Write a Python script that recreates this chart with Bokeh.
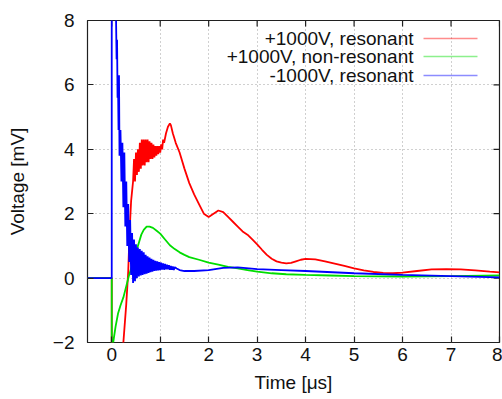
from bokeh.plotting import figure
from bokeh.models import FixedTicker, Label, BoxAnnotation, Range1d
from bokeh.embed import file_html
from bokeh.resources import INLINE

# ---------------- data ----------------
x_ticks = [0, 1, 2, 3, 4, 5, 6, 7, 8]
y_ticks = [-2, 0, 2, 4, 6, 8]

series_names = ["+1000V, resonant", "+1000V, non-resonant", "-1000V, resonant"]

red_t = [-0.5, 0.0, 0.0, 0.24, 0.30, 0.34, 0.37, 0.40, 0.42,
         0.44, 0.46, 0.48, 0.50, 0.52, 0.54, 0.56, 0.58, 0.60, 0.62,
         0.64, 0.66, 0.68, 0.70, 0.72, 0.74, 0.76, 0.78, 0.80, 0.82,
         0.84, 0.86, 0.88, 0.90, 0.92, 0.94, 0.96, 0.98, 1.00, 1.02,
         1.04, 1.06, 1.08, 1.12, 1.16, 1.20, 1.22, 1.26, 1.32, 1.40,
         1.50, 1.60, 1.70, 1.80, 1.90, 2.00, 2.10, 2.20, 2.30, 2.40,
         2.50, 2.60, 2.70, 2.80, 2.90, 3.00, 3.10, 3.20, 3.30, 3.40,
         3.50, 3.60, 3.70, 3.80, 3.90, 4.00, 4.20, 4.40, 4.60, 4.80,
         5.00, 5.20, 5.40, 5.60, 5.80, 6.00, 6.30, 6.60, 6.90, 7.20,
         7.50, 7.80, 8.00]
red_v = [0.0, 0.0, -2.6, -2.0, -0.8, 0.2, 1.5, 2.4, 2.7,
         3.0, 3.7, 3.0, 3.9, 3.2, 4.0, 3.3, 4.2, 3.4, 4.3,
         3.5, 4.3, 3.5, 4.3, 3.6, 4.3, 3.6, 4.25, 3.7, 4.2,
         3.7, 4.15, 3.75, 4.1, 3.8, 4.1, 3.85, 4.1, 3.9, 4.15,
         4.0, 4.3, 4.2, 4.5, 4.7, 4.8, 4.75, 4.5, 4.2, 3.9,
         3.4, 2.95, 2.6, 2.3, 2.0, 1.9, 2.0, 2.1, 2.05, 1.9,
         1.75, 1.6, 1.45, 1.35, 1.2, 1.05, 0.88, 0.72, 0.6, 0.52,
         0.48, 0.46, 0.47, 0.52, 0.57, 0.6, 0.58, 0.52, 0.45, 0.38,
         0.3, 0.24, 0.19, 0.16, 0.15, 0.17, 0.22, 0.27, 0.28, 0.27,
         0.24, 0.2, 0.18]

green_t = [-0.5, 0.0, 0.0, 0.03, 0.08, 0.13, 0.18, 0.24, 0.30,
           0.35, 0.41, 0.46, 0.51, 0.56, 0.61, 0.66, 0.72, 0.78, 0.85,
           0.92, 1.00, 1.10, 1.20, 1.30, 1.40, 1.50, 1.60, 1.80, 2.00,
           2.20, 2.40, 2.60, 2.80, 3.00, 3.30, 3.60, 4.00, 4.50, 5.00,
           6.00, 7.00, 8.00]
green_v = [0.0, 0.0, -2.6, -2.0, -1.5, -1.1, -0.85, -0.6, -0.25,
           0.05, 0.35, 0.6, 0.85, 1.1, 1.35, 1.5, 1.6, 1.6, 1.56,
           1.48, 1.38, 1.2, 1.02, 0.9, 0.8, 0.72, 0.65, 0.57, 0.48,
           0.42, 0.35, 0.3, 0.25, 0.2, 0.15, 0.12, 0.1, 0.08, 0.06,
           0.05, 0.06, 0.08]

blue_t = [-0.5, 0.0, 0.0, 0.08, 0.085, 0.10, 0.11, 0.12, 0.13,
          0.14, 0.15, 0.16, 0.18, 0.20, 0.22, 0.24, 0.26, 0.28, 0.30,
          0.32, 0.34, 0.36, 0.38, 0.40, 0.42, 0.44, 0.46, 0.48, 0.50,
          0.52, 0.54, 0.56, 0.58, 0.60, 0.62, 0.64, 0.66, 0.68, 0.70,
          0.72, 0.74, 0.76, 0.78, 0.80, 0.82, 0.84, 0.86, 0.88, 0.90,
          0.92, 0.94, 0.96, 0.98, 1.00, 1.02, 1.04, 1.06, 1.08, 1.10,
          1.12, 1.14, 1.16, 1.18, 1.20, 1.22, 1.24, 1.26, 1.28, 1.30,
          1.34, 1.40, 1.50, 1.70, 2.00, 2.30, 2.60, 3.00, 3.50, 4.00,
          5.00, 6.00, 7.00, 8.00]
blue_v = [0.0, 0.0, 9.5, 9.5, 8.5, 6.8, 7.4, 5.6, 6.0,
          4.6, 6.3, 3.8, 4.6, 3.0, 4.2, 2.2, 3.9, 1.6, 3.0,
          1.0, 2.3, 0.5, 1.8, 0.1, 1.4, -0.15, 1.2, -0.1, 1.05,
          0.0, 0.95, 0.05, 0.9, 0.08, 0.85, 0.1, 0.8, 0.12, 0.72,
          0.14, 0.68, 0.16, 0.64, 0.18, 0.6, 0.2, 0.57, 0.22, 0.54,
          0.23, 0.52, 0.24, 0.5, 0.25, 0.48, 0.26, 0.46, 0.26, 0.44,
          0.27, 0.42, 0.27, 0.4, 0.26, 0.38, 0.26, 0.36, 0.25, 0.34,
          0.3, 0.25, 0.22, 0.22, 0.25, 0.32, 0.33, 0.28, 0.25, 0.22,
          0.15, 0.1, 0.06, 0.02]

colors = ["#ff0000", "#00dd00", "#0000ff"]

FONT = "Liberation Sans"
X0, X1 = -0.5, 8.0
Y0, Y1 = -2.0, 8.0

# ---------------- figure ----------------
W, H = 502, 399
ML, MR, MT, MB = 87, 3, 20, 57
p = figure(width=W, height=H, output_backend="svg", toolbar_location=None,
           x_range=Range1d(X0, X1), y_range=Range1d(Y0, Y1),
           min_border_left=ML, min_border_right=MR, min_border_top=MT,
           min_border_bottom=MB)
p.background_fill_color = "white"
p.border_fill_color = "white"
p.outline_line_color = "#202020"
p.outline_line_width = 1.2

for ax in (p.xaxis[0], p.yaxis[0]):
    ax.major_tick_in = 6
    ax.major_tick_out = 0
    ax.minor_tick_in = 0
    ax.minor_tick_out = 0
    ax.axis_line_color = None
    ax.major_tick_line_color = "#202020"
    ax.major_tick_line_width = 1.2
    ax.major_label_text_font = FONT
    ax.major_label_text_font_size = "19px"
    ax.major_label_text_color = "#111111"
    ax.axis_label_text_font = FONT
    ax.axis_label_text_font_size = "19px"
    ax.axis_label_text_font_style = "normal"
    ax.axis_label_text_color = "#111111"

p.xaxis[0].ticker = FixedTicker(ticks=x_ticks)
p.yaxis[0].ticker = FixedTicker(ticks=y_ticks)
p.xaxis[0].axis_label = "Time [μs]"
p.yaxis[0].axis_label = "Voltage [mV]"
p.xaxis[0].major_label_standoff = 5
p.xaxis[0].axis_label_standoff = 8
p.yaxis[0].major_label_standoff = 13
p.yaxis[0].axis_label_standoff = 22

p.xgrid.ticker = FixedTicker(ticks=x_ticks)
p.ygrid.ticker = FixedTicker(ticks=y_ticks)
for g in (p.xgrid[0], p.ygrid[0]):
    g.grid_line_color = "#a0a0a0"
    g.grid_line_dash = "1 3"
    g.grid_line_width = 1

# mirrored inward ticks on the top and right borders (6 px long)
fw, fh = W - ML - MR, H - MT - MB
tx = 6 * (X1 - X0) / fw
ty = 6 * (Y1 - Y0) / fh
p.segment(x0=x_ticks, x1=x_ticks, y0=[Y1] * len(x_ticks), y1=[Y1 - ty] * len(x_ticks),
          line_color="#202020", line_width=1.2)
p.segment(x0=[X1] * len(y_ticks), x1=[X1 - tx] * len(y_ticks), y0=y_ticks, y1=y_ticks,
          line_color="#202020", line_width=1.2)

p.line(red_t, red_v, line_color=colors[0], line_width=1.8)
p.line(green_t, green_v, line_color=colors[1], line_width=1.8)
p.line(blue_t, blue_v, line_color=colors[2], line_width=1.8)

# legend (text right-aligned, sample line to the right), frame screen units
rows_y = [304, 286, 267]
for name, c, yy in zip(series_names, colors, rows_y):
    p.add_layout(Label(x=326, y=yy, x_units="screen", y_units="screen",
                       text=name, text_align="right", text_baseline="middle",
                       text_font=FONT, text_font_size="19px",
                       text_color="#111111"))
    p.add_layout(BoxAnnotation(left=336, right=390, bottom=yy - 0.75, top=yy + 0.75,
                               left_units="screen", right_units="screen",
                               bottom_units="screen", top_units="screen",
                               fill_color=c, fill_alpha=0.45, line_color=None))

open("out.html", "w").write(file_html(p, INLINE))
